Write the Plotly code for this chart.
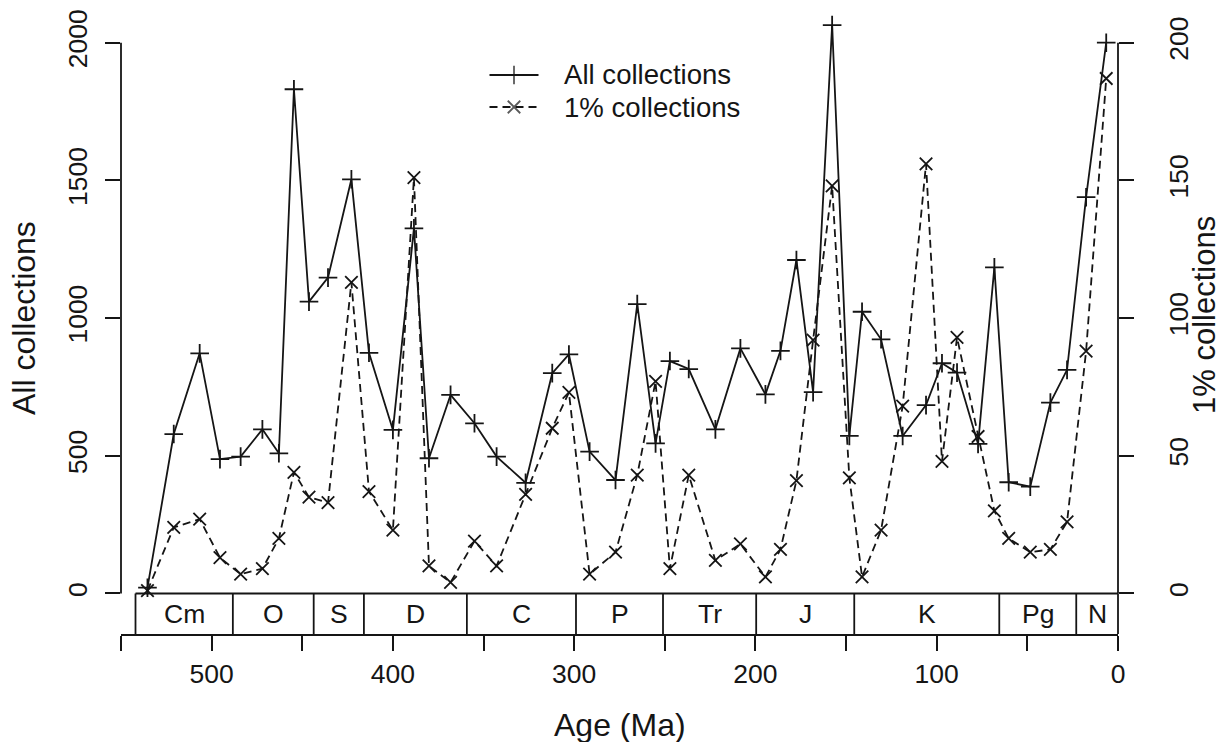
import plotly.graph_objects as go

# Bin midpoints (Ma) and collection counts per bin
age_ma = [535.4, 520.9, 506.6, 495.4, 484.0, 472.0, 462.9, 454.6, 446.3, 435.8,
          422.9, 413.2, 400.0, 388.4, 380.1, 368.2, 355.0, 342.8, 326.8, 312.1,
          302.9, 291.5, 277.2, 265.2, 255.1, 247.2, 236.8, 222.1, 208.3, 194.5,
          186.2, 177.4, 168.2, 157.7, 148.2, 141.2, 130.7, 118.8, 105.9, 97.1,
          88.8, 77.2, 68.2, 60.3, 48.4, 37.3, 28.1, 17.6, 6.5]

all_collections = [21, 579, 872, 488, 497, 596, 509, 1831, 1060, 1147,
                   1504, 874, 594, 1326, 491, 721, 618, 497, 402, 800,
                   868, 515, 412, 1051, 545, 844, 815, 596, 890, 723,
                   881, 1211, 731, 2064, 572, 1023, 923, 572, 684, 836,
                   802, 543, 1184, 404, 388, 693, 812, 1439, 2000]

pct1_collections = [1, 24, 27, 13, 7, 9, 20, 44, 35, 33,
                    113, 37, 23, 151, 10, 4, 19, 10, 36, 60,
                    73, 7, 15, 43, 77, 9, 43, 12, 18, 6,
                    16, 41, 92, 148, 42, 6, 23, 68, 156, 48,
                    93, 57, 30, 20, 15, 16, 26, 88, 187]

# Geological periods (GTS 2004 boundaries, Ma)
period_names = ["Cm", "O", "S", "D", "C", "P", "Tr", "J", "K", "Pg", "N"]
period_base = [542.0, 488.3, 443.7, 416.0, 359.2, 299.0, 251.0, 199.6, 145.5, 65.5, 23.03]
period_top = [488.3, 443.7, 416.0, 359.2, 299.0, 251.0, 199.6, 145.5, 65.5, 23.03, 0.0]

x_ticks = list(range(0, 551, 50))
x_ticktext = [str(v) if v % 100 == 0 else "" for v in x_ticks]
left_ticks = [0, 500, 1000, 1500, 2000]
right_ticks = [0, 50, 100, 150, 200]

INK = "#151515"
FONT = "Liberation Sans, Arial, Helvetica, sans-serif"
LW = 1.8

W, H = 1225, 742
M_L, M_R, M_T, M_B = 121, 107, 10, 108
PW, PH = W - M_L - M_R, H - M_T - M_B

# Left axis: 0 sits at the top of the period strip; 2000 near the top
Y_MIN, Y_MAX = -147.1, 2118.7
RIGHT_SCALE = 10.0


def px_x(px):
    return (px - M_L) / PW


def px_y(py):
    return (H - M_B - py) / PH


fig = go.Figure()

fig.add_trace(go.Scatter(
    x=age_ma, y=all_collections, mode="lines+markers", name="All collections",
    line=dict(color=INK, width=LW),
    marker=dict(symbol="cross-thin", size=13.3, line=dict(color=INK, width=LW)),
    cliponaxis=False, showlegend=False,
))

fig.add_trace(go.Scatter(
    x=age_ma, y=pct1_collections, mode="lines+markers", name="1% collections",
    yaxis="y2",
    line=dict(color=INK, width=LW, dash="8px,5px"),
    marker=dict(symbol="x-thin", size=12.5, line=dict(color=INK, width=LW)),
    cliponaxis=False, showlegend=False,
))

# Legend keys drawn on a hidden unit overlay
legend_rows = [
    ("All collections", "cross-thin", 13.3, "solid", 75),
    ("1% collections", "x-thin", 12.5, "8px,5px", 107),
]
key_x0, key_x1, text_x = 489.5, 538.5, 562
shapes = []
annotations = []
for label, sym, size, dash, row_y in legend_rows:
    fig.add_trace(go.Scatter(
        x=[px_x(key_x0), px_x((key_x0 + key_x1) / 2), px_x(key_x1)],
        y=[px_y(row_y)] * 3,
        xaxis="x3", yaxis="y3", mode="lines+markers",
        line=dict(color=INK, width=LW, dash=dash),
        marker=dict(symbol=sym, size=[0, size, 0], line=dict(color=INK, width=LW)),
        cliponaxis=False, showlegend=False, hoverinfo="skip",
    ))
    annotations.append(dict(
        x=px_x(text_x), y=px_y(row_y), xref="paper", yref="paper",
        xanchor="left", yanchor="middle", showarrow=False, text=label,
        font=dict(family=FONT, size=27.6, color=INK),
    ))

# Period strip
shapes.append(dict(type="line", xref="x", yref="y", x0=period_base[0], x1=0,
                   y0=0, y1=0, line=dict(color=INK, width=LW)))
for name, base, top in zip(period_names, period_base, period_top):
    shapes.append(dict(type="line", xref="x", yref="y", x0=base, x1=base,
                       y0=0, y1=Y_MIN, line=dict(color=INK, width=LW)))
    annotations.append(dict(
        x=(base + top) / 2, y=Y_MIN / 2, xref="x", yref="y",
        xanchor="center", yanchor="middle", showarrow=False, text=name,
        font=dict(family=FONT, size=26.5, color=INK),
    ))
shapes.append(dict(type="line", xref="paper", yref="y", x0=1, x1=1,
                   y0=0, y1=Y_MIN, line=dict(color=INK, width=LW)))

# Vertical axis lines spanning only the labelled ranges
shapes.append(dict(type="line", xref="paper", yref="y", x0=0, x1=0,
                   y0=left_ticks[0], y1=left_ticks[-1], line=dict(color=INK, width=LW)))
shapes.append(dict(type="line", xref="paper", yref="y2", x0=1, x1=1,
                   y0=right_ticks[0], y1=right_ticks[-1], line=dict(color=INK, width=LW)))

# Axis titles
annotations.append(dict(x=0.5, y=px_y(725), xref="paper", yref="paper",
                        xanchor="center", yanchor="middle", showarrow=False,
                        text="Age (Ma)", font=dict(family=FONT, size=32, color=INK)))
annotations.append(dict(x=px_x(24), y=px_y(318), xref="paper", yref="paper",
                        xanchor="center", yanchor="middle", showarrow=False, textangle=-90,
                        text="All collections", font=dict(family=FONT, size=32, color=INK)))
annotations.append(dict(x=px_x(1204), y=px_y(315), xref="paper", yref="paper",
                        xanchor="center", yanchor="middle", showarrow=False, textangle=-90,
                        text="1% collections", font=dict(family=FONT, size=31, color=INK)))

tick_font = dict(family=FONT, size=26.5, color=INK)

fig.update_layout(
    width=W, height=H,
    margin=dict(l=M_L, r=M_R, t=M_T, b=M_B, pad=0),
    paper_bgcolor="white", plot_bgcolor="white",
    showlegend=False,
    xaxis=dict(
        range=[550, 0], tickvals=x_ticks, ticktext=x_ticktext,
        ticks="outside", ticklen=15, tickwidth=LW, tickcolor=INK,
        showline=True, linewidth=LW, linecolor=INK,
        showgrid=False, zeroline=False, tickfont=tick_font,
        ticklabelstandoff=0,
    ),
    yaxis=dict(
        range=[Y_MIN, Y_MAX], tickvals=left_ticks,
        ticks="outside", ticklen=15, tickwidth=LW, tickcolor=INK,
        showline=False, showgrid=False, zeroline=False,
        tickangle=-90, tickfont=tick_font, ticklabelstandoff=7,
    ),
    yaxis2=dict(
        range=[Y_MIN / RIGHT_SCALE, Y_MAX / RIGHT_SCALE], tickvals=right_ticks,
        overlaying="y", side="right",
        ticks="outside", ticklen=15, tickwidth=LW, tickcolor=INK,
        showline=False, showgrid=False, zeroline=False,
        tickangle=-90, tickfont=tick_font, ticklabelstandoff=22,
    ),
    xaxis3=dict(range=[0, 1], overlaying="x", visible=False, fixedrange=True),
    yaxis3=dict(range=[0, 1], overlaying="y", visible=False, fixedrange=True),
    shapes=shapes,
    annotations=annotations,
)

fig.write_html("out.html")
